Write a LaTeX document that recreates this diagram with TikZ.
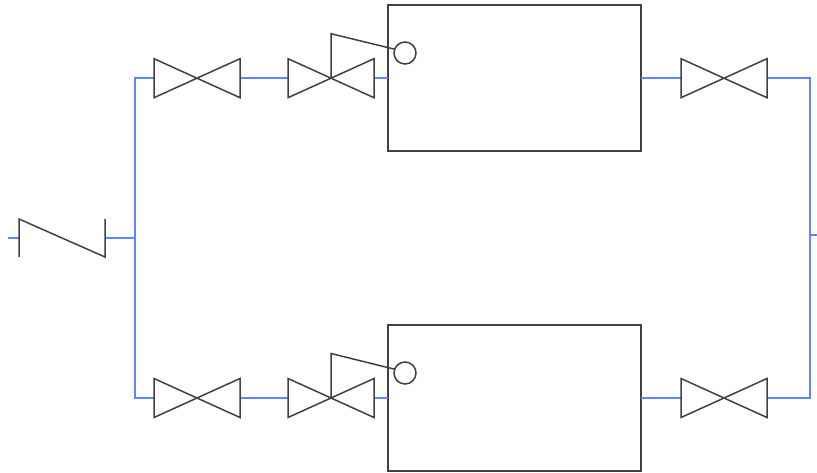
\documentclass[tikz,border=0pt]{standalone}
\usetikzlibrary{calc}
\definecolor{pipe}{HTML}{5C85FF}
\definecolor{ink}{HTML}{404040}
\tikzset{
  pipeline/.style={draw=pipe,line width=1.7pt,line join=miter},
  symbolline/.style={draw=ink,line width=1.5pt,line join=miter},
  valvebox/.style={minimum width=86pt,minimum height=39pt,inner sep=0pt,outer sep=0pt},
  vessel/.style={draw=ink,line width=1.5pt,minimum width=253.2pt,minimum height=145.8pt,inner sep=0pt,outer sep=0pt},
  gauge/.style={draw=ink,line width=1.5pt,circle,fill=white,minimum size=22pt,inner sep=0pt,outer sep=0pt},
}
\begin{document}
\begin{tikzpicture}[x=1pt,y=-1pt]
\useasboundingbox (0,0) rectangle (817,473);
% vessels
\node[vessel] (boxA) at (514.6,78.1) {};
\node[vessel] (boxB) at (514.6,398.1) {};
% valves
\node[valvebox] (vA1) at (197,78.2) {};
\node[valvebox] (vA2) at (331,78.2) {};
\node[valvebox] (vA3) at (724,78.2) {};
\node[valvebox] (vB1) at (197,398) {};
\node[valvebox] (vB2) at (331,398) {};
\node[valvebox] (vB3) at (724,398) {};
% check valve frame
\node[minimum width=86pt,minimum height=38pt,inner sep=0pt,outer sep=0pt] (chk) at (62,238) {};
% free ends and junctions
\coordinate (inlet) at (8,238);
\coordinate (outlet) at (817,235);
\coordinate (jL) at (135.2,238);
\coordinate (jR) at (810,235);
\coordinate (cornerLT) at (135.2,78.2);
\coordinate (cornerLB) at (135.2,398);
\coordinate (cornerRT) at (810,78.2);
\coordinate (cornerRB) at (810,398);
% gauges
\node[gauge] (gA) at (405,53) {};
\node[gauge] (gB) at (405,373) {};
% pipes
\draw[pipeline] (inlet) -- (chk.west);
\draw[pipeline] (chk.east) -- (jL);
\draw[pipeline] (vA1.west) -- (cornerLT) -- (cornerLB) -- (vB1.west);
\draw[pipeline] (vA1.east) -- (vA2.west);
\draw[pipeline] (vB1.east) -- (vB2.west);
\draw[pipeline] (vA2.east) -- (boxA.west |- vA2.east);
\draw[pipeline] (vB2.east) -- (boxB.west |- vB2.east);
\draw[pipeline] (boxA.east |- vA3.west) -- (vA3.west);
\draw[pipeline] (boxB.east |- vB3.west) -- (vB3.west);
\draw[pipeline] (vA3.east) -- (cornerRT) -- (cornerRB) -- (vB3.east);
\draw[pipeline] (jR) -- (outlet);
% valve symbols
\foreach \v in {vA1,vA2,vA3,vB1,vB2,vB3}{
  \draw[symbolline] (\v.north west) -- (\v.south east) -- (\v.north east) -- (\v.south west) -- cycle;
}
% check valve symbol
\draw[symbolline] (chk.south west) -- (chk.north west) -- (chk.south east) -- (chk.north east);
% actuators
\draw[symbolline] (vA2.center) -- ($(vA2.center)+(0,-44.5)$) -- (gA.160);
\draw[symbolline] (vB2.center) -- ($(vB2.center)+(0,-44.5)$) -- (gB.160);
\end{tikzpicture}
\end{document}
